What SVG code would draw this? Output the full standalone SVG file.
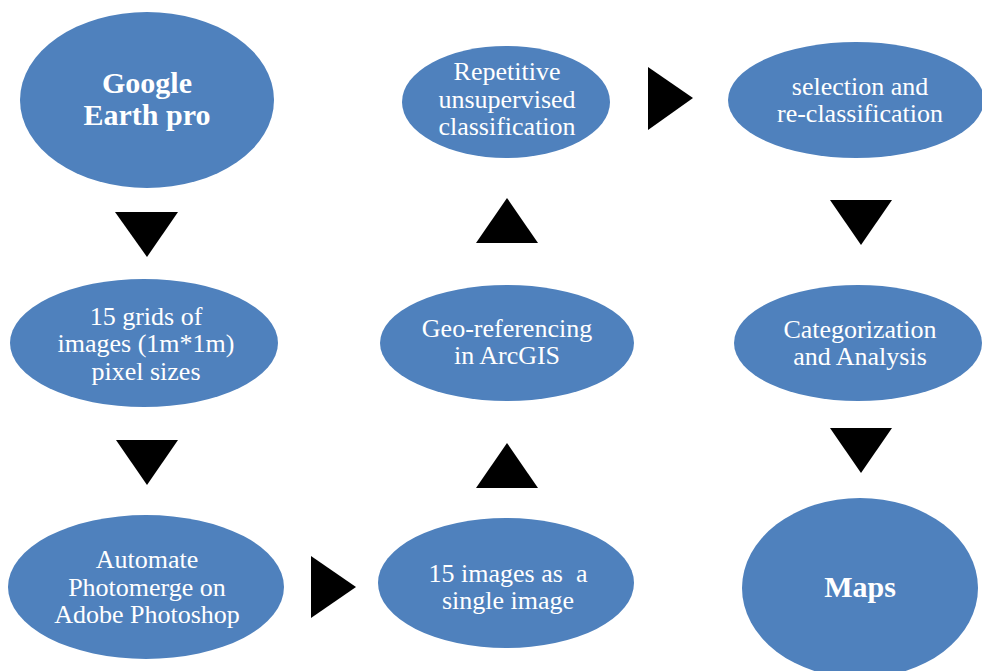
<svg xmlns="http://www.w3.org/2000/svg" width="982" height="671" viewBox="0 0 982 671">
<style>
.n{fill:#4F81BD}
.t{fill:#fff;font-family:"Liberation Serif","Times New Roman",serif;font-size:26px;text-anchor:middle}
.b{font-weight:bold;font-size:30px}
.a{fill:#000}
</style>
<rect width="982" height="671" fill="#fff"/>
<g id="connectors">
<polygon class="a" points="115,212 178,212 147,257"/>
<polygon class="a" points="116,440 178,440 147,485"/>
<polygon class="a" points="311,556 356,587 311,618"/>
<polygon class="a" points="476,488 538,488 507,443"/>
<polygon class="a" points="476,243 538,243 507,198"/>
<polygon class="a" points="648,67 693,98 648,130"/>
<polygon class="a" points="830,200 892,200 861,245"/>
<polygon class="a" points="830,428 892,428 861,473"/>
</g>
<g id="google-earth">
<ellipse class="n" cx="147" cy="100" rx="127" ry="88"/>
<text class="t b" x="147" y="93">Google</text>
<text class="t b" x="147" y="125">Earth pro</text>
</g>
<g id="grids">
<ellipse class="n" cx="144" cy="343" rx="134" ry="64"/>
<text class="t" x="146" y="325">15 grids of</text>
<text class="t" x="146" y="352">images (1m*1m)</text>
<text class="t" x="146" y="380">pixel sizes</text>
</g>
<g id="photomerge">
<ellipse class="n" cx="146" cy="587" rx="138" ry="72"/>
<text class="t" x="147" y="568">Automate</text>
<text class="t" x="147" y="596">Photomerge on</text>
<text class="t" x="147" y="623">Adobe Photoshop</text>
</g>
<g id="single-image">
<ellipse class="n" cx="506" cy="583" rx="128" ry="65"/>
<text class="t" x="508" y="582" xml:space="preserve">15 images as  a</text>
<text class="t" x="508" y="609">single image</text>
</g>
<g id="georef">
<ellipse class="n" cx="507" cy="343" rx="127" ry="58"/>
<text class="t" x="507" y="337">Geo-referencing</text>
<text class="t" x="507" y="364">in ArcGIS</text>
</g>
<g id="repetitive">
<ellipse class="n" cx="506" cy="102" rx="104" ry="56"/>
<text class="t" x="507" y="80">Repetitive</text>
<text class="t" x="507" y="108">unsupervised</text>
<text class="t" x="507" y="135">classification</text>
</g>
<g id="selection">
<ellipse class="n" cx="856" cy="100" rx="128" ry="58"/>
<text class="t" x="860" y="95">selection and</text>
<text class="t" x="860" y="122">re-classification</text>
</g>
<g id="categorization">
<ellipse class="n" cx="858" cy="343" rx="124" ry="58"/>
<text class="t" x="860" y="338">Categorization</text>
<text class="t" x="860" y="365">and Analysis</text>
</g>
<g id="maps">
<ellipse class="n" cx="860" cy="588" rx="118" ry="90"/>
<text class="t b" x="860" y="597">Maps</text>
</g>
</svg>
